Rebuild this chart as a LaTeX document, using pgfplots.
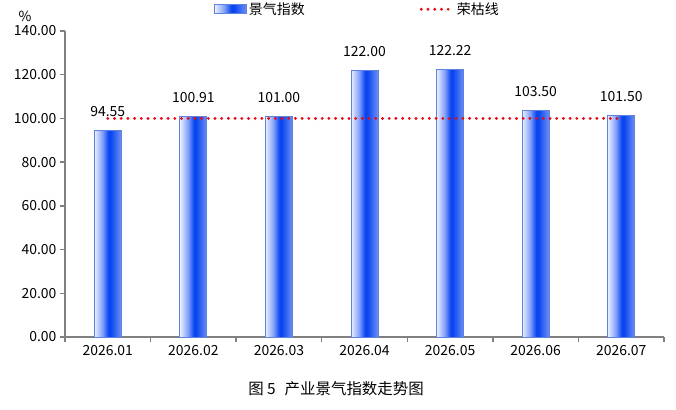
\documentclass[border=0pt]{standalone}
\usepackage{fontspec}
\setmainfont{Noto Sans CJK SC}
\usepackage{pgfplots}
\pgfplotsset{compat=1.18}

\definecolor{barL}{RGB}{235,240,254}
\definecolor{barM}{RGB}{130,160,250}
\definecolor{barD}{RGB}{10,70,240}
\definecolor{barR}{RGB}{110,145,245}
\definecolor{barEdge}{RGB}{95,130,220}
\definecolor{axgray}{RGB}{128,128,128}
\definecolor{lineRed}{RGB}{230,10,20}

\pgfdeclarehorizontalshading{barshade}{100bp}{color(0bp)=(barL); color(25bp)=(barL); color(40bp)=(barM); color(51bp)=(barD); color(55bp)=(barD); color(75bp)=(barR); color(100bp)=(barR)}

\pgfplotsset{
  barstyle/.style={ybar, bar width=27bp, draw=barEdge, line width=0.8pt, shading=barshade,
    nodes near coords, nodes near coords style={font=\fontsize{14}{16}\selectfont, text=black, /pgf/number format/.cd, fixed, fixed zerofill, precision=2, assume math mode=true, /tikz/yshift=10bp}},
}

\begin{document}
\begin{tikzpicture}[x=1bp,y=1bp]
\useasboundingbox (-65,-72) rectangle (611,337);
\begin{axis}[
    scale only axis,
    width=599bp, height=306bp,
    xmin=0.5, xmax=7.5,
    ymin=0, ymax=140,
    axis x line*=bottom,
    axis y line*=left,
    axis line style={axgray, line width=1.6pt, -},
    xtick={0.5,1.5,...,7.5},
    x tick label as interval,
    xticklabels={2026.01,2026.02,2026.03,2026.04,2026.05,2026.06,2026.07},
    ytick={0,20,...,140},
    yticklabel style={/pgf/number format/.cd, fixed, fixed zerofill, precision=2},
    tick align=outside,
    major tick length=5bp,
    tick style={axgray, line width=1.4pt},
    tick label style={font=\fontsize{14}{16}\selectfont, text=black},
    /pgf/number format/assume math mode=true,
    ylabel={\%},
    ylabel style={rotate=-90, font=\fontsize{14}{16}\selectfont, at={(axis description cs:0,1)}, anchor=south, xshift=-40bp, yshift=6bp},
    legend style={at={(axis description cs:0.249,1.071)}, anchor=west, draw=none, fill=none,
        inner sep=0pt, legend columns=2, font=\fontsize{14}{16}\selectfont,
        /tikz/every even column/.append style={column sep=113bp}},
    legend cell align=left,
    clip=false,
]
\addplot[barstyle,
    legend image code/.code={\draw[draw=barEdge, line width=0.6pt, shading=barshade] (0bp,-4.5bp) rectangle (32bp,4.5bp);}]
    coordinates {(1,94.55)};
\addlegendentry{景气指数}
\addplot[barstyle, forget plot] coordinates {(2,100.91)};
\addplot[barstyle, forget plot] coordinates {(3,101.00)};
\addplot[barstyle, forget plot] coordinates {(4,122.00)};
\addplot[barstyle, forget plot] coordinates {(5,122.22)};
\addplot[barstyle, forget plot] coordinates {(6,103.50)};
\addplot[barstyle, forget plot] coordinates {(7,101.50)};
\addplot[lineRed, line width=3.2bp, line cap=round, dash pattern=on 0bp off 6.7bp,
    legend image code/.code={\draw[lineRed, line width=3.2bp, line cap=round, dash pattern=on 0bp off 6.7bp] (1bp,0bp) -- (33bp,0bp);}]
    coordinates {(1,100) (7,100)};
\addlegendentry{荣枯线}
\end{axis}
\node[font=\fontsize{15.5}{18}\selectfont] at (271,-52) {图 5\hspace{9bp}产业景气指数走势图};
\end{tikzpicture}
\end{document}
